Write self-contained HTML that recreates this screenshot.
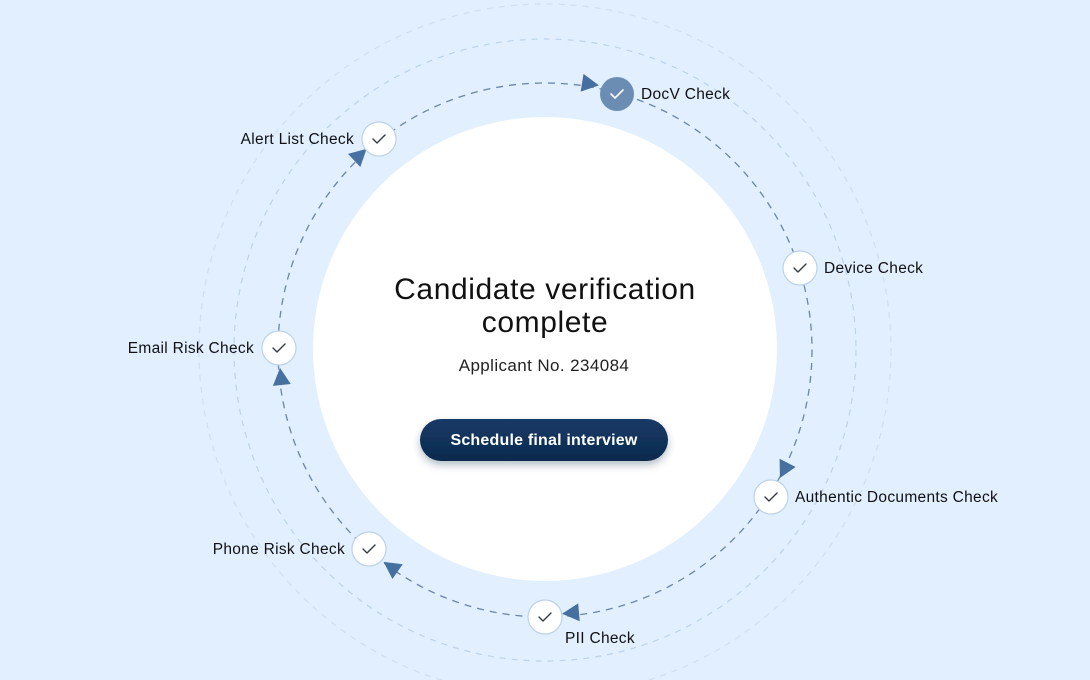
<!DOCTYPE html>
<html><head><meta charset="utf-8"><style>
html,body{margin:0;padding:0;}
body{width:1090px;height:680px;overflow:hidden;background:#e1efff;font-family:"Liberation Sans",sans-serif;}
</style></head><body>
<svg width="1090" height="680" viewBox="0 0 1090 680" xmlns="http://www.w3.org/2000/svg" style="position:absolute;left:0;top:0">
<defs>
<filter id="sh" x="-20%" y="-50%" width="140%" height="200%"><feDropShadow dx="0" dy="4" stdDeviation="4" flood-color="#0b2545" flood-opacity="0.3"/></filter>
<linearGradient id="bg" x1="0" y1="0" x2="0" y2="1"><stop offset="0" stop-color="#163a66"/><stop offset="1" stop-color="#0d2a4e"/></linearGradient>
</defs>
<circle cx="545" cy="350" r="346" fill="none" stroke="#cfe0f2" stroke-width="1.2" stroke-dasharray="6 6"/>
<circle cx="545" cy="350" r="311" fill="none" stroke="#bcd3ea" stroke-width="1.2" stroke-dasharray="6 6"/>
<circle cx="545" cy="349" r="232" fill="#ffffff"/>
<circle cx="545" cy="350" r="267" fill="none" stroke="#6a85a6" stroke-width="1.3" stroke-dasharray="7 6"/>
<g fill="#46709f">
<g transform="translate(590,84) rotate(9)"><polygon points="9,0 -8,-9 -8,9"/></g>
<g transform="translate(360,155) rotate(-43)"><polygon points="9,0 -8,-9 -8,9"/></g>
<g transform="translate(784,470) rotate(117)"><polygon points="9,0 -8,-9 -8,9"/></g>
<g transform="translate(281,377) rotate(-96)"><polygon points="9,0 -8,-9 -8,9"/></g>
<g transform="translate(391,567) rotate(-145)"><polygon points="9,0 -8,-9 -8,9"/></g>
<g transform="translate(571,613) rotate(175)"><polygon points="9,0 -8,-9 -8,9"/></g>
</g>
<g stroke="#bcd2ea" stroke-width="1.2" fill="#ffffff">
<circle cx="379" cy="139" r="17"/>
<circle cx="800" cy="268" r="17"/>
<circle cx="279" cy="348" r="17"/>
<circle cx="771" cy="497" r="17"/>
<circle cx="369" cy="549" r="17"/>
<circle cx="545" cy="617" r="17"/>
</g>
<circle cx="617" cy="94" r="17" fill="#6b8db3"/>
<g fill="none" stroke="#333b45" stroke-width="1.4" stroke-linecap="round" stroke-linejoin="round">
<path d="M373,139 l4,4 l8,-8"/>
<path d="M794,268 l4,4 l8,-8"/>
<path d="M273,348 l4,4 l8,-8"/>
<path d="M765,497 l4,4 l8,-8"/>
<path d="M363,549 l4,4 l8,-8"/>
<path d="M539,617 l4,4 l8,-8"/>
</g>
<path d="M611,94 l4,4 l8,-8" fill="none" stroke="#ffffff" stroke-width="1.6" stroke-linecap="round" stroke-linejoin="round"/>
<g font-family="Liberation Sans, sans-serif" font-size="15.5" fill="#111" letter-spacing="0.3">
<text x="641" y="99">DocV Check</text>
<text x="354" y="144" text-anchor="end">Alert List Check</text>
<text x="824" y="273">Device Check</text>
<text x="254" y="353" text-anchor="end">Email Risk Check</text>
<text x="795" y="502">Authentic Documents Check</text>
<text x="345" y="554" text-anchor="end">Phone Risk Check</text>
<text x="565" y="643">PII Check</text>
</g>
<text x="545" y="299" text-anchor="middle" font-size="30" letter-spacing="0.6" fill="#111" font-family="Liberation Sans, sans-serif">Candidate verification</text>
<text x="545" y="332" text-anchor="middle" font-size="30" letter-spacing="0.6" fill="#111" font-family="Liberation Sans, sans-serif">complete</text>
<text x="544" y="371" text-anchor="middle" font-size="17" letter-spacing="0.4" fill="#222" font-family="Liberation Sans, sans-serif">Applicant No. 234084</text>
<rect x="420" y="419" width="248" height="42" rx="21" fill="url(#bg)" filter="url(#sh)"/>
<text x="544" y="445" text-anchor="middle" font-size="16" font-weight="bold" fill="#ffffff" font-family="Liberation Sans, sans-serif" letter-spacing="0.2">Schedule final interview</text>
</svg>
</body></html>
